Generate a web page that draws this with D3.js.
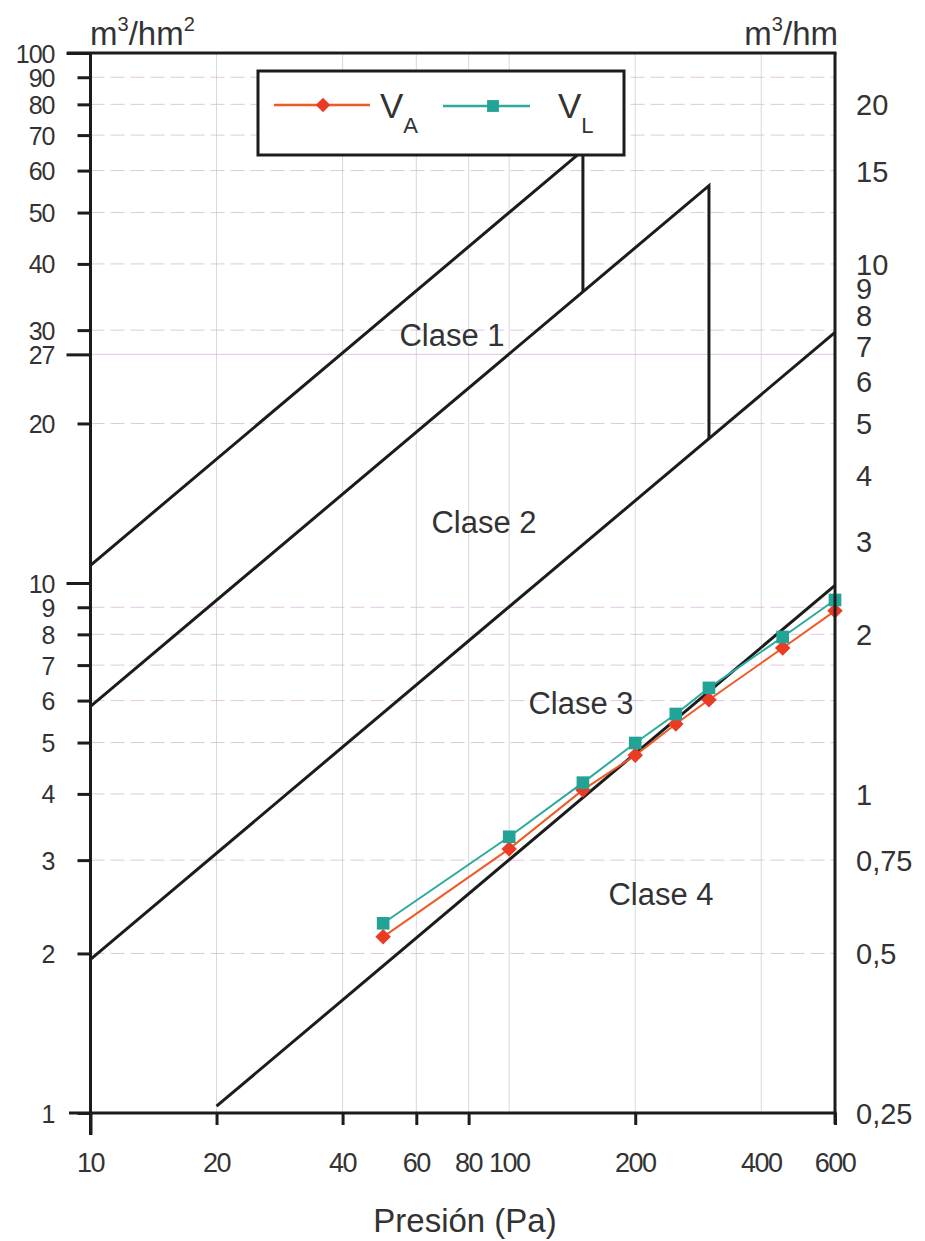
<!DOCTYPE html>
<meta charset="utf-8">

<head>
	<title>Clases de permeabilidad</title>
	<script src="https://d3js.org/d3.v7.min.js" charset="utf-8"></script>
</head>

<style type="text/css">

	body {
		margin: 0;
		background: #fff;
		font-family: "Liberation Sans", Arial, Helvetica, sans-serif;
	}

	svg {
		display: block;
	}

	.grid-h {
		stroke: #dcb8e0;
		stroke-width: 1px;
		stroke-dasharray: 14, 6;
		opacity: 0.8;
	}

	.grid-v {
		stroke: #d8d8d8;
		stroke-width: 1px;
	}

	.clase {
		fill: none;
		stroke: #1c1c1c;
		stroke-width: 3px;
	}

	.axis-line {
		stroke: #1c1c1c;
		stroke-width: 3px;
	}

</style>

<body>

	<script>

		// datos
		var presiones = [50, 100, 150, 200, 250, 300, 450, 600];
		var serieVA = [2.15, 3.15, 4.07, 4.73, 5.42, 6.02, 7.54, 8.86];
		var serieVL = [2.28, 3.32, 4.2, 4.99, 5.66, 6.34, 7.91, 9.29];

		// limites de clase [presion, caudal]
		var clase1 = [[10, 10.8], [150, 65.5], [150, 35.4]];
		var clase2 = [[10, 5.85], [300, 56.2], [300, 18.7]];
		var clase3 = [[10, 1.95], [600, 29.7]];
		var clase4 = [[20, 1.03], [600, 9.9]];

		var ticksIzq = [100, 90, 80, 70, 60, 50, 40, 30, 27, 20, 10, 9, 8, 7, 6, 5, 4, 3, 2, 1];
		var ticksIzqLargos = [100, 27, 10];
		var ticksDer = [20, 15, 10, 9, 8, 7, 6, 5, 4, 3, 2, 1, 0.75, 0.5, 0.25];
		var ticksX = [10, 20, 40, 60, 80, 200, 600];
		var etiquetasX = [10, 20, 40, 60, 80, 100, 200, 400, 600];
		var gridY = [2, 3, 4, 5, 6, 7, 8, 9, 20, 30, 40, 50, 60, 70, 80, 90];
		var gridX = [20, 40, 60, 80, 100, 200, 400];

		var etiquetasClase = [
			{ text: "Clase 1", x: 452, y: 346 },
			{ text: "Clase 2", x: 484, y: 533 },
			{ text: "Clase 3", x: 581, y: 714 },
			{ text: "Clase 4", x: 661, y: 905 }
		];

		var width = 925,
			height = 1241;

		var mLeft = 90.5, mRight = 835, mTop = 53, mBottom = 1113;

		var x = d3.scaleLog().domain([10, 600]).range([mLeft, mRight]);
		var y = d3.scaleLog().domain([1, 100]).range([mBottom, mTop]);
		var yDer = d3.scaleLog().domain([0.25, 25]).range([mBottom, mTop]);

		var svg = d3.select("body").append("svg")
			.attr("width", width)
			.attr("height", height);

		// rejilla
		svg.append("g").selectAll("line")
			.data(gridX)
		 .enter().append("line")
			.attr("class", "grid-v")
			.attr("x1", function(d) { return x(d); })
			.attr("x2", function(d) { return x(d); })
			.attr("y1", mTop)
			.attr("y2", mBottom);

		svg.append("g").selectAll("line")
			.data(gridY)
		 .enter().append("line")
			.attr("class", "grid-h")
			.attr("x1", mLeft)
			.attr("x2", mRight)
			.attr("y1", function(d) { return y(d); })
			.attr("y2", function(d) { return y(d); });

		svg.append("line")
			.attr("class", "grid-h")
			.style("stroke-dasharray", "none")
			.attr("x1", mLeft).attr("x2", mRight)
			.attr("y1", y(27)).attr("y2", y(27));

		// lineas de clase
		var lineaClase = d3.line()
			.x(function(d) { return x(d[0]); })
			.y(function(d) { return y(d[1]); });

		svg.append("g").selectAll("path")
			.data([clase1, clase2, clase3, clase4])
		 .enter().append("path")
			.attr("class", "clase")
			.attr("d", lineaClase);

		svg.append("g").selectAll("text")
			.data(etiquetasClase)
		 .enter().append("text")
			.attr("x", function(d) { return d.x; })
			.attr("y", function(d) { return d.y; })
			.attr("text-anchor", "middle")
			.style("font-size", "31px")
			.style("fill", "#333")
			.text(function(d) { return d.text; });

		// series
		var series = [
			{ values: serieVA, line: "#ef5a26", fill: "#ea3c25", symbol: "diamond" },
			{ values: serieVL, line: "#2aab9c", fill: "#22a396", symbol: "square" }
		];

		var lineaSerie = d3.line()
			.x(function(d) { return x(d[0]); })
			.y(function(d) { return y(d[1]); });

		function marker(sel, s, size) {
			if (s.symbol === "diamond") {
				sel.attr("d", d3.symbol().type(d3.symbolSquare).size(size * 0.75)())
					.attr("transform", function() { return d3.select(this).attr("transform") + " rotate(45)"; });
			} else {
				sel.attr("d", d3.symbol().type(d3.symbolSquare).size(size)());
			}
			sel.style("fill", s.fill);
		}

		series.forEach(function(s) {
			var pts = presiones.map(function(p, i) { return [p, s.values[i]]; });

			svg.append("path")
				.datum(pts)
				.attr("d", lineaSerie)
				.style("fill", "none")
				.style("stroke", s.line)
				.style("stroke-width", 2);

			svg.append("g").selectAll("path")
				.data(pts)
			 .enter().append("path")
				.attr("transform", function(d) { return "translate(" + x(d[0]) + "," + y(d[1]) + ")"; })
				.call(marker, s, 160);
		});

		// ejes
		svg.append("line").attr("class", "axis-line")
			.attr("x1", 67).attr("x2", mRight + 1.5).attr("y1", mTop).attr("y2", mTop);
		svg.append("line").attr("class", "axis-line")
			.attr("x1", 69).attr("x2", mRight + 1.5).attr("y1", mBottom).attr("y2", mBottom);
		svg.append("line").attr("class", "axis-line")
			.attr("x1", mLeft).attr("x2", mLeft).attr("y1", mTop).attr("y2", 1135);
		svg.append("line").attr("class", "axis-line")
			.attr("x1", mRight).attr("x2", mRight).attr("y1", mTop).attr("y2", 1124);

		var ejeIzq = svg.append("g")
			.attr("transform", "translate(" + mLeft + ",0)")
			.call(d3.axisLeft(y).tickValues(ticksIzq).tickFormat(d3.format("d")).tickSize(13).tickPadding(23));

		ejeIzq.select(".domain").remove();
		ejeIzq.selectAll(".tick line")
			.attr("x2", function(d) { return ticksIzqLargos.indexOf(d) >= 0 ? -24 : -13; })
			.style("stroke", "#1c1c1c")
			.style("stroke-width", 3);
		ejeIzq.selectAll(".tick text")
			.attr("dy", "0.36em")
			.style("font-family", "'Liberation Sans', Arial, sans-serif")
			.style("font-size", "25px")
			.style("letter-spacing", "-1px")
			.style("fill", "#333");

		var ejeDer = svg.append("g")
			.attr("transform", "translate(" + mRight + ",0)")
			.call(d3.axisRight(yDer).tickValues(ticksDer)
				.tickFormat(function(d) { return String(d).replace(".", ","); })
				.tickSize(0).tickPadding(21));

		ejeDer.select(".domain").remove();
		ejeDer.selectAll(".tick text")
			.attr("dy", "0.36em")
			.style("font-family", "'Liberation Sans', Arial, sans-serif")
			.style("font-size", "29px")
			.style("fill", "#333");

		var ejeX = svg.append("g")
			.attr("transform", "translate(0," + mBottom + ")")
			.call(d3.axisBottom(x).tickValues(ticksX).tickFormat("").tickSize(12));

		ejeX.select(".domain").remove();
		ejeX.selectAll(".tick line")
			.attr("y2", function(d) { return d === 10 ? 22 : 12; })
			.style("stroke", "#1c1c1c")
			.style("stroke-width", 3);

		svg.append("g").selectAll("text")
			.data(etiquetasX)
		 .enter().append("text")
			.attr("x", function(d) { return x(d); })
			.attr("y", 1172)
			.attr("text-anchor", "middle")
			.style("font-size", "27px")
			.style("letter-spacing", "-1.5px")
			.style("fill", "#333")
			.text(function(d) { return d; });

		// titulos
		var tIzq = svg.append("text")
			.attr("x", 90)
			.attr("y", 45)
			.style("font-size", "33px")
			.style("fill", "#333");
		tIzq.append("tspan").text("m");
		tIzq.append("tspan").attr("dy", -14).style("font-size", "20px").text("3");
		tIzq.append("tspan").attr("dy", 14).text("/hm");
		tIzq.append("tspan").attr("dy", -14).style("font-size", "20px").text("2");

		var tDer = svg.append("text")
			.attr("x", 838)
			.attr("y", 45)
			.attr("text-anchor", "end")
			.style("font-size", "33px")
			.style("fill", "#333");
		tDer.append("tspan").text("m");
		tDer.append("tspan").attr("dy", -14).style("font-size", "20px").text("3");
		tDer.append("tspan").attr("dy", 14).text("/hm");

		svg.append("text")
			.attr("x", 465)
			.attr("y", 1232)
			.attr("text-anchor", "middle")
			.style("font-size", "33px")
			.style("fill", "#333")
			.text("Presión (Pa)");

		// leyenda
		var leyenda = svg.append("g");

		leyenda.append("rect")
			.attr("x", 258)
			.attr("y", 71)
			.attr("width", 366)
			.attr("height", 84)
			.style("fill", "#fff")
			.style("stroke", "#1c1c1c")
			.style("stroke-width", 3);

		var itemsLeyenda = [
			{ s: series[0], x1: 274, x2: 370, xm: 323, ly: 105, tx: 380, main: "V", sub: "A" },
			{ s: series[1], x1: 443, x2: 530, xm: 493, ly: 106, tx: 558, main: "V", sub: "L" }
		];

		itemsLeyenda.forEach(function(it) {
			leyenda.append("line")
				.attr("x1", it.x1).attr("x2", it.x2)
				.attr("y1", it.ly).attr("y2", it.ly)
				.style("stroke", it.s.line)
				.style("stroke-width", 2.5);

			leyenda.append("path")
				.attr("transform", "translate(" + it.xm + "," + it.ly + ")")
				.call(marker, it.s, 140);

			var t = leyenda.append("text")
				.attr("x", it.tx)
				.attr("y", 118)
				.style("font-size", "35px")
				.style("fill", "#333");
			t.append("tspan").text(it.main);
			t.append("tspan").attr("dy", 15).style("font-size", "22px").text(it.sub);
		});

	</script>

</body>
